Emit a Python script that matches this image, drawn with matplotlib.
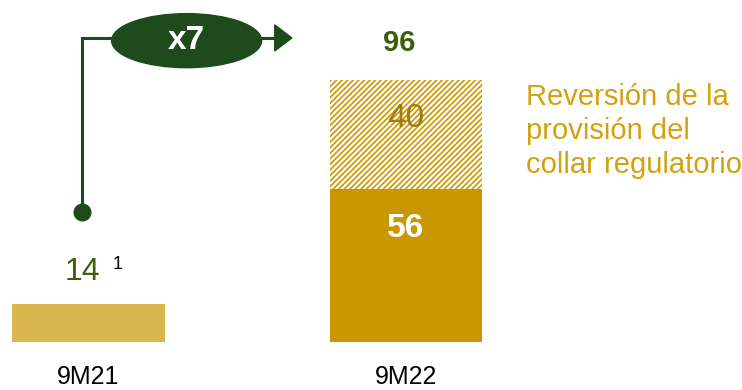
import matplotlib.pyplot as plt
from matplotlib.patches import Ellipse, Polygon

plt.rcParams['font.family'] = ['Liberation Sans', 'DejaVu Sans']
plt.rcParams['hatch.linewidth'] = 1.2

# Data
periods = ['9M21', '9M22']
base_values = [14, 56]          # underlying result
reversal_values = [0, 40]       # regulatory collar provision reversal
totals = [14, 96]
multiple_label = 'x7'
legend_text = 'Reversión de la\nprovisión del\ncollar regulatorio'

dark_green = '#1F4A1C'
olive_green = '#3F5E0C'
gold = '#C99700'
light_gold = '#D9B74C'
dark_gold = '#A07C08'
legend_gold = '#D4A10E'

fig = plt.figure(figsize=(7.42, 3.90), dpi=100)
ax = fig.add_axes([0, 0, 1, 1])
ax.set_xlim(-0.277, 2.057)
ax.set_ylim(-17.6, 125.3)
ax.axis('off')

x = [0, 1]
width = 0.481
ax.bar(x[0], base_values[0], width=width, color=light_gold, linewidth=0)
ax.bar(x[1], base_values[1], width=width, color=gold, linewidth=0)
ax.bar(x[1], reversal_values[1], bottom=base_values[1], width=width,
       color='white', edgecolor=gold, hatch='//////', linewidth=0)

# value labels
ax.text(x[0] - 0.017, totals[0] + 11.6, f'{totals[0]}', ha='center', va='center',
        fontsize=23, color=olive_green)
ax.text(x[0] + 0.093, totals[0] + 14.5, '1', ha='center', va='center',
        fontsize=13, color='black')
ax.text(x[1], base_values[1] * 0.74, f'{base_values[1]}', ha='center', va='center',
        fontsize=24, fontweight='bold', color='white')
ax.text(x[1], base_values[1] + reversal_values[1] / 2 + 5.8, f'{reversal_values[1]}',
        ha='center', va='center', fontsize=24, color=dark_gold)
ax.text(x[1] - 0.022, totals[1] + 13.6, f'{totals[1]}', ha='center', va='center',
        fontsize=21, fontweight='bold', color=olive_green)

# category labels
for xi, p in zip(x, periods):
    ax.text(xi, -12.8, p, ha='center', va='center', fontsize=18, color='black')

# growth connector: dot, elbow line, ellipse badge and arrow head
line_y = 111.4
ax.plot([-0.02, -0.02, 0.60], [47.6, line_y, line_y], color=dark_green, lw=2.2,
        solid_joinstyle='miter', zorder=2)
ax.plot(-0.02, 47.6, 'o', color=dark_green, markersize=12, zorder=3)
ax.add_patch(Ellipse((0.310, line_y - 1.0), 0.472, 19.8, color=dark_green, zorder=3))
ax.add_patch(Polygon([[0.587, line_y + 4.8], [0.587, line_y - 4.8], [0.641, line_y]],
                     closed=True, color=dark_green, zorder=3))
ax.text(0.310, line_y - 1.0, multiple_label, ha='center', va='center', fontsize=24,
        fontweight='bold', color='white', zorder=4)

# legend-style annotation for the hatched segment
ax.text(1.376, 94.8, legend_text, ha='left', va='top', fontsize=21,
        color=legend_gold, linespacing=1.27)

fig.savefig('out.png', dpi=100)
